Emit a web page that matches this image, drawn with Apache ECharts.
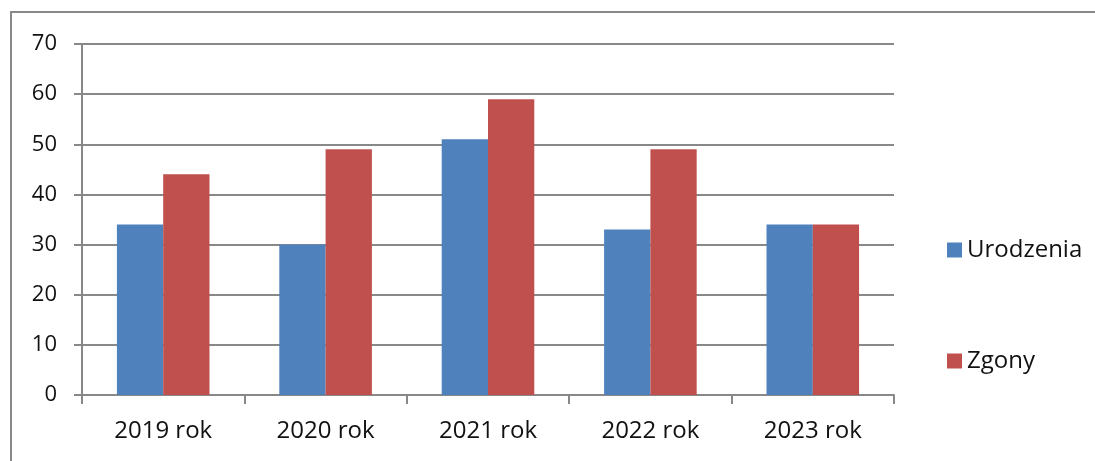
<!DOCTYPE html>
<html>
<head>
<meta charset="utf-8">
<script src="https://cdn.jsdelivr.net/npm/echarts@6/dist/echarts.min.js"></script>
<style>
html,body{margin:0;padding:0;background:#fff;}
#chart{width:1095px;height:461px;}
</style>
</head>
<body>
<div id="chart"></div>
<script>
const categories = ['2019 rok', '2020 rok', '2021 rok', '2022 rok', '2023 rok'];
const urodzenia = [34, 30, 51, 33, 34];
const zgony = [44, 49, 59, 49, 34];
const seriesNames = ['Urodzenia', 'Zgony'];

const FONT = '"Open Sans", "Liberation Sans", Arial, sans-serif';
const GRID = '#888888';
const TEXT = '#111111';
const chart = echarts.init(document.getElementById('chart'), null, {renderer: 'canvas'});
chart.setOption({
  animation: false,
  backgroundColor: '#ffffff',
  graphic: [{
    type: 'rect',
    shape: {x: 11, y: 12, width: 1200, height: 600},
    style: {fill: 'none', stroke: GRID, lineWidth: 2},
    silent: true,
    z: -1
  }],
  grid: {left: 82, right: 201, top: 44, bottom: 66},
  legend: {
    orient: 'vertical',
    left: 947,
    top: 238,
    padding: 0,
    itemWidth: 15,
    itemHeight: 15,
    itemGap: 87,
    icon: 'rect',
    textStyle: {fontFamily: FONT, fontSize: 24, color: TEXT, lineHeight: 24},
    data: seriesNames
  },
  xAxis: {
    type: 'category',
    data: categories,
    axisLine: {lineStyle: {color: GRID, width: 2}},
    axisTick: {show: true, length: 9, lineStyle: {color: GRID, width: 2}},
    axisLabel: {fontFamily: FONT, fontSize: 24, color: TEXT, margin: 24}
  },
  yAxis: {
    type: 'value',
    min: 0,
    max: 70,
    interval: 10,
    axisLine: {show: true, lineStyle: {color: GRID, width: 2}},
    axisTick: {show: true, length: 8, lineStyle: {color: GRID, width: 2}},
    axisLabel: {fontFamily: FONT, fontSize: 22, color: TEXT, margin: 25},
    splitLine: {show: true, lineStyle: {color: GRID, width: 2}}
  },
  series: [
    {
      name: seriesNames[0],
      type: 'bar',
      data: urodzenia,
      itemStyle: {color: '#4F81BD'},
      barGap: '0%',
      barCategoryGap: '43%'
    },
    {
      name: seriesNames[1],
      type: 'bar',
      data: zgony,
      itemStyle: {color: '#C0504D'},
      barGap: '0%',
      barCategoryGap: '43%'
    }
  ]
});
</script>
</body>
</html>
